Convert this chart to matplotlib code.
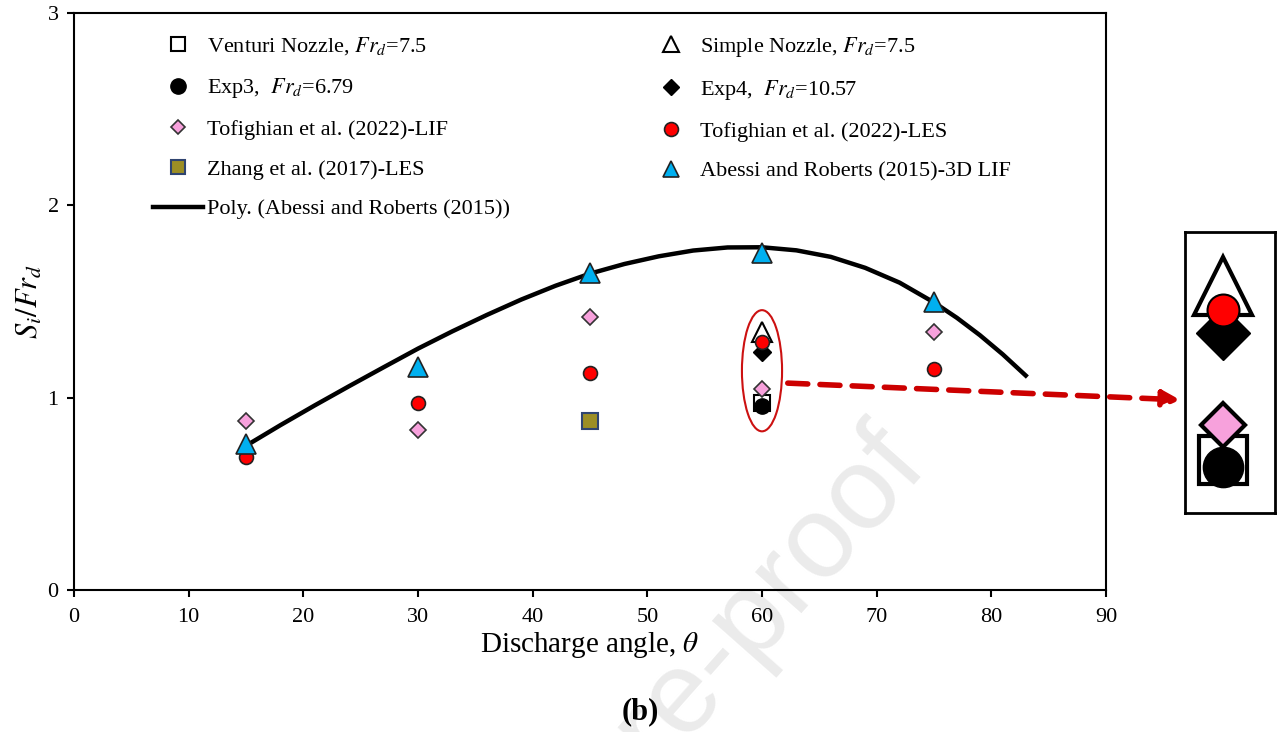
import matplotlib
matplotlib.use('Agg')
import matplotlib.pyplot as plt
from matplotlib.patches import Ellipse

plt.rcParams['font.family'] = ['Liberation Serif', 'DejaVu Serif']
plt.rcParams['mathtext.fontset'] = 'stix'

# values
angles = [15, 30, 45, 60, 75]
abessi_lif = [0.76, 1.16, 1.65, 1.75, 1.50]
tofighian_les = [0.69, 0.97, 1.13, 1.29, 1.15]
tofighian_lif = [0.88, 0.83, 1.42, 1.045, 1.34]
zhang_x = [45]
zhang_les = [0.88]
exp_x = [60]
venturi = [0.97]
simple = [1.34]
exp3 = [0.955]
exp4 = [1.24]

# Poly. trendline
poly_x = [15, 18, 21, 24, 27, 30, 33, 36, 39, 42, 45, 48, 51, 54, 57, 60,
          63, 66, 69, 72, 75, 77, 79, 81, 83]
poly_y = [0.75, 0.857, 0.96, 1.06, 1.158, 1.255, 1.345, 1.43, 1.51, 1.582, 1.645, 1.695,
          1.735, 1.765, 1.781, 1.782, 1.766, 1.732, 1.675, 1.598, 1.495, 1.415, 1.325, 1.225, 1.115]

fig = plt.figure(figsize=(12.79, 7.32), dpi=100)
ax = fig.add_axes([74/1279, 1-590/732, 1032/1279, 577/732])
ax.patch.set_facecolor('none')

pink = '#f7a1dc'
blue = '#00b0f0'

ax.plot(exp_x, venturi, 's', ms=11, mfc='white', mec='black', mew=1.5, label=r'Venturi Nozzle, $Fr_d$=7.5')
ax.plot(exp_x, simple, '^', ms=14, mfc='white', mec='black', mew=1.5, label=r'Simple Nozzle, $Fr_d$=7.5')
ax.plot(exp_x, exp3, 'o', ms=11, mfc='black', mec='black', label=r'Exp3, $\ Fr_d$=6.79')
ax.plot(exp_x, exp4, 'D', ms=9, mfc='black', mec='black', label=r'Exp4, $\ Fr_d$=10.57')
ax.plot(angles, tofighian_lif, 'D', ms=8.5, mfc=pink, mec='#333333', mew=1.2, label='Tofighian et al. (2022)-LIF')
ax.plot(angles, tofighian_les, 'o', ms=10, mfc='red', mec='#222222', mew=1.2, label='Tofighian et al. (2022)-LES')
ax.plot(zhang_x, zhang_les, 's', ms=12, mfc='#9c8e24', mec='#2f4470', mew=1.5, label='Zhang et al. (2017)-LES')
ax.plot(angles, abessi_lif, '^', ms=14, mfc=blue, mec='#222222', mew=1.2, label='Abessi and Roberts (2015)-3D LIF')
ax.plot(poly_x, poly_y, '-', color='black', lw=3.2, solid_joinstyle='round',
        label='Poly. (Abessi and Roberts (2015))', zorder=1)

ax.add_patch(Ellipse((60, 1.14), 3.5, 0.63, fill=False, ec='#cc1111', lw=1.5))

ax.set_xlim(0, 90)
ax.set_ylim(0, 3)
ax.set_xticks(range(0, 91, 10))
ax.set_yticks([0, 1, 2, 3])
for s in ax.spines.values():
    s.set_linewidth(1.5)
ax.tick_params(direction='out', length=5, width=1.5, labelsize=16)
ax.tick_params(axis='x', pad=8)
ax.tick_params(axis='y', pad=6)
ax.set_xlabel(r'Discharge angle, $\theta$', fontsize=21, labelpad=2)
ax.set_ylabel(r'$S_i/Fr_d$', fontsize=22, labelpad=2)

# legend: two columns, column-first order
h, l = ax.get_legend_handles_labels()
order = [0, 2, 4, 6, 8, 1, 3, 5, 7]
leg = ax.legend([h[i] for i in order], [l[i] for i in order], ncol=2, frameon=False, fontsize=16,
                loc='upper left', bbox_to_anchor=(144/1279, 1-26/732), bbox_transform=fig.transFigure,
                borderaxespad=0, handlelength=2.25, handletextpad=0.2, labelspacing=0.86,
                columnspacing=6.1, numpoints=1)
leg_sizes = [10, 11, 7.5, 10, None, 11, 8.5, 10, 11]
for lh, ms in zip(leg.legend_handles, leg_sizes):
    if ms:
        lh.set_markersize(ms)

# zoomed view of the 60 degree cluster
axi = fig.add_axes([1185/1279, 1-513/732, 90/1279, 281/732])
axi.set_xlim(60-0.42*2, 60+0.58*2)
axi.set_ylim(0.857, 1.456)
axi.set_xticks([])
axi.set_yticks([])
for s in axi.spines.values():
    s.set_linewidth(2)
axi.plot(exp_x, venturi, 's', ms=35, mfc='white', mec='black', mew=3)
axi.plot(exp_x, simple, '^', ms=42, mfc='white', mec='black', mew=3)
axi.plot(exp_x, exp3, 'o', ms=29, mfc='black', mec='black')
axi.plot(exp_x, exp4, 'D', ms=28, mfc='black', mec='black')
axi.plot([60], [tofighian_lif[3]], 'D', ms=22, mfc=pink, mec='black', mew=3)
axi.plot([60], [tofighian_les[3]], 'o', ms=23, mfc='red', mec='black', mew=1.5)

ax.annotate('', xy=(1183, 332), xycoords='figure pixels', xytext=(785, 349), textcoords='figure pixels',
            arrowprops=dict(arrowstyle='-|>', ls=(0, (3.6, 2.2)), lw=4, color='#cc0000', mutation_scale=25),
            annotation_clip=False)

fig.text(640/1279, 1-712/732, '(b)', fontsize=22, fontweight='bold', ha='center', va='center')

fig.text(930/1279, 264/732, 'Journal Pre-proof', fontsize=84, family='Liberation Sans', color='#ebebeb',
         rotation=48.5, rotation_mode='anchor', ha='right', va='baseline', zorder=-1)

fig.savefig('out.png', dpi=100)
